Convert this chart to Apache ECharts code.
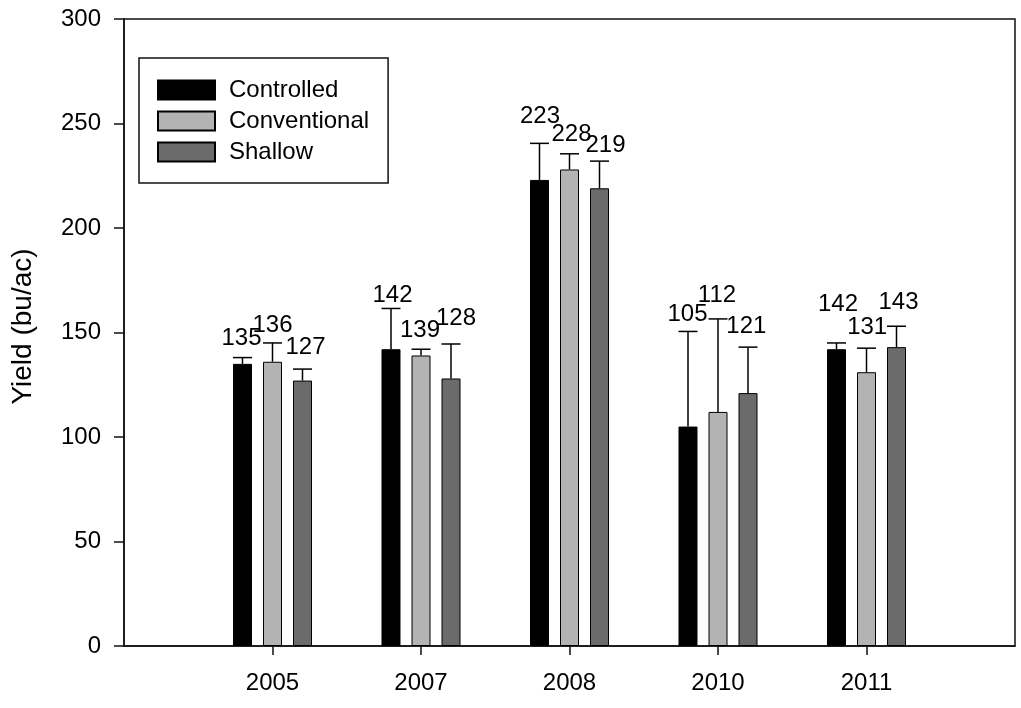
<!DOCTYPE html>
<html>
<head>
<meta charset="utf-8">
<title>Yield by drainage type</title>
<script src="https://cdn.jsdelivr.net/npm/echarts@6/dist/echarts.min.js"></script>
<style>
  html, body { margin: 0; padding: 0; background: #fff; }
  #chart { width: 1021px; height: 708px; }
</style>
</head>
<body>
<div id="chart"></div>
<script>
// Years on the category axis (blank slots pad each end of the axis)
const years = ['2005', '2007', '2008', '2010', '2011'];

// Mean yield (bu/ac)
const controlled   = [135, 142, 223, 105, 142];
const conventional = [136, 139, 228, 112, 131];
const shallow      = [127, 128, 219, 121, 143];

// Upper error (bu/ac)
const controlledErr   = [3, 19.5, 17.5, 45.5, 3];
const conventionalErr = [9, 3, 7.5, 44.5, 11.5];
const shallowErr      = [5.5, 16.5, 13, 22, 10];

const yTicks = [0, 50, 100, 150, 200, 250, 300];

// Hand placement of the value labels: gap above the cap and sideways nudge (px)
const controlledLabelLift   = [9.7, 3.3, 16.6, 6.7, 28.3];
const conventionalLabelLift = [7.7, 9, 9.7, 13.3, 11.3];
const shallowLabelLift      = [12, 16, 5.7, 10.7, 13.4];
const controlledLabelShift   = [-1, 1.5, 0.5, -0.5, 1.5];
const conventionalLabelShift = [0, -1, 2, -1, 0.7];
const shallowLabelShift      = [3, 5, 6, -1.7, 2];

const FONT = '"Liberation Sans", Arial, sans-serif';
const BAR_W = 19;
const BAR_GAP = 11;
const STEP = BAR_W + BAR_GAP;

const categories = [''].concat(years, ['']);
const pad = arr => ['-'].concat(arr, ['-']);

const groups = [
  { name: 'Controlled', values: controlled, err: controlledErr, color: '#000000', offset: -STEP,
    lift: controlledLabelLift, shift: controlledLabelShift },
  { name: 'Conventional', values: conventional, err: conventionalErr, color: '#b3b3b3', offset: 0,
    lift: conventionalLabelLift, shift: conventionalLabelShift },
  { name: 'Shallow', values: shallow, err: shallowErr, color: '#6b6b6b', offset: STEP,
    lift: shallowLabelLift, shift: shallowLabelShift }
];

const barSeries = groups.map(g => ({
  name: g.name,
  type: 'bar',
  data: pad(g.values),
  barWidth: BAR_W,
  barGap: (BAR_GAP / BAR_W * 100).toFixed(1) + '%',
  itemStyle: { color: g.color, borderColor: '#000', borderWidth: 1 },
  z: 2
}));

// Error bar with cap and value label above each bar
const errSeries = groups.map(g => ({
  name: g.name + ' error',
  type: 'custom',
  z: 3,
  data: g.values.map((v, i) => [i + 1, v, g.err[i], i]),
  renderItem: function (params, api) {
    const ci = api.value(0), v = api.value(1), e = api.value(2), k = api.value(3);
    const base = api.coord([ci, v]);
    const top = api.coord([ci, v + e]);
    const x = base[0] + g.offset;
    const half = BAR_W / 2;
    return {
      type: 'group',
      children: [
        { type: 'line', shape: { x1: x, y1: base[1], x2: x, y2: top[1] },
          style: { stroke: '#000', lineWidth: 1.5 } },
        { type: 'line', shape: { x1: x - half, y1: top[1], x2: x + half, y2: top[1] },
          style: { stroke: '#000', lineWidth: 1.5 } },
        { type: 'text', x: x + g.shift[k], y: top[1] - g.lift[k] + 2,
          style: { text: String(v), fill: '#000', font: '24px ' + FONT,
                   align: 'center', verticalAlign: 'bottom' } }
      ]
    };
  }
}));

const chart = echarts.init(document.getElementById('chart'), null, { renderer: 'canvas' });
chart.setOption({
  animation: false,
  backgroundColor: '#fff',
  textStyle: { fontFamily: FONT },
  grid: {
    left: 124, right: 6, top: 19, bottom: 62,
    show: true, borderColor: '#111', borderWidth: 1.5, backgroundColor: 'transparent'
  },
  legend: {
    data: groups.map(g => g.name),
    orient: 'vertical',
    left: 139, top: 58,
    padding: [20, 19, 19, 18],
    itemWidth: 57, itemHeight: 19, itemGap: 7,
    borderColor: '#111', borderWidth: 1.5,
    icon: 'rect',
    selectedMode: false,
    textStyle: { fontSize: 24, color: '#000', fontFamily: FONT, padding: [0, 0, 0, 9] }
  },
  xAxis: {
    type: 'category',
    data: categories,
    boundaryGap: false,
    axisLine: { lineStyle: { color: '#111', width: 1.5 } },
    axisTick: { show: true, length: 9, lineStyle: { color: '#111', width: 1.5 },
                interval: (i) => i > 0 && i < categories.length - 1 },
    axisLabel: { fontSize: 24, color: '#000', margin: 25,
                 interval: (i) => i > 0 && i < categories.length - 1 },
    splitLine: { show: false }
  },
  yAxis: {
    type: 'value',
    min: yTicks[0], max: yTicks[yTicks.length - 1], interval: yTicks[1] - yTicks[0],
    name: 'Yield (bu/ac)',
    nameLocation: 'middle',
    nameGap: 87,
    nameTextStyle: { fontSize: 28, color: '#000', fontFamily: FONT, padding: [0, 0, 0, 12] },
    axisLine: { show: true, lineStyle: { color: '#111', width: 1.5 } },
    axisTick: { show: true, inside: false, length: 10, lineStyle: { color: '#111', width: 1.5 } },
    axisLabel: { fontSize: 24, color: '#000', margin: 23 },
    splitLine: { show: false }
  },
  series: barSeries.concat(errSeries)
});
</script>
</body>
</html>
